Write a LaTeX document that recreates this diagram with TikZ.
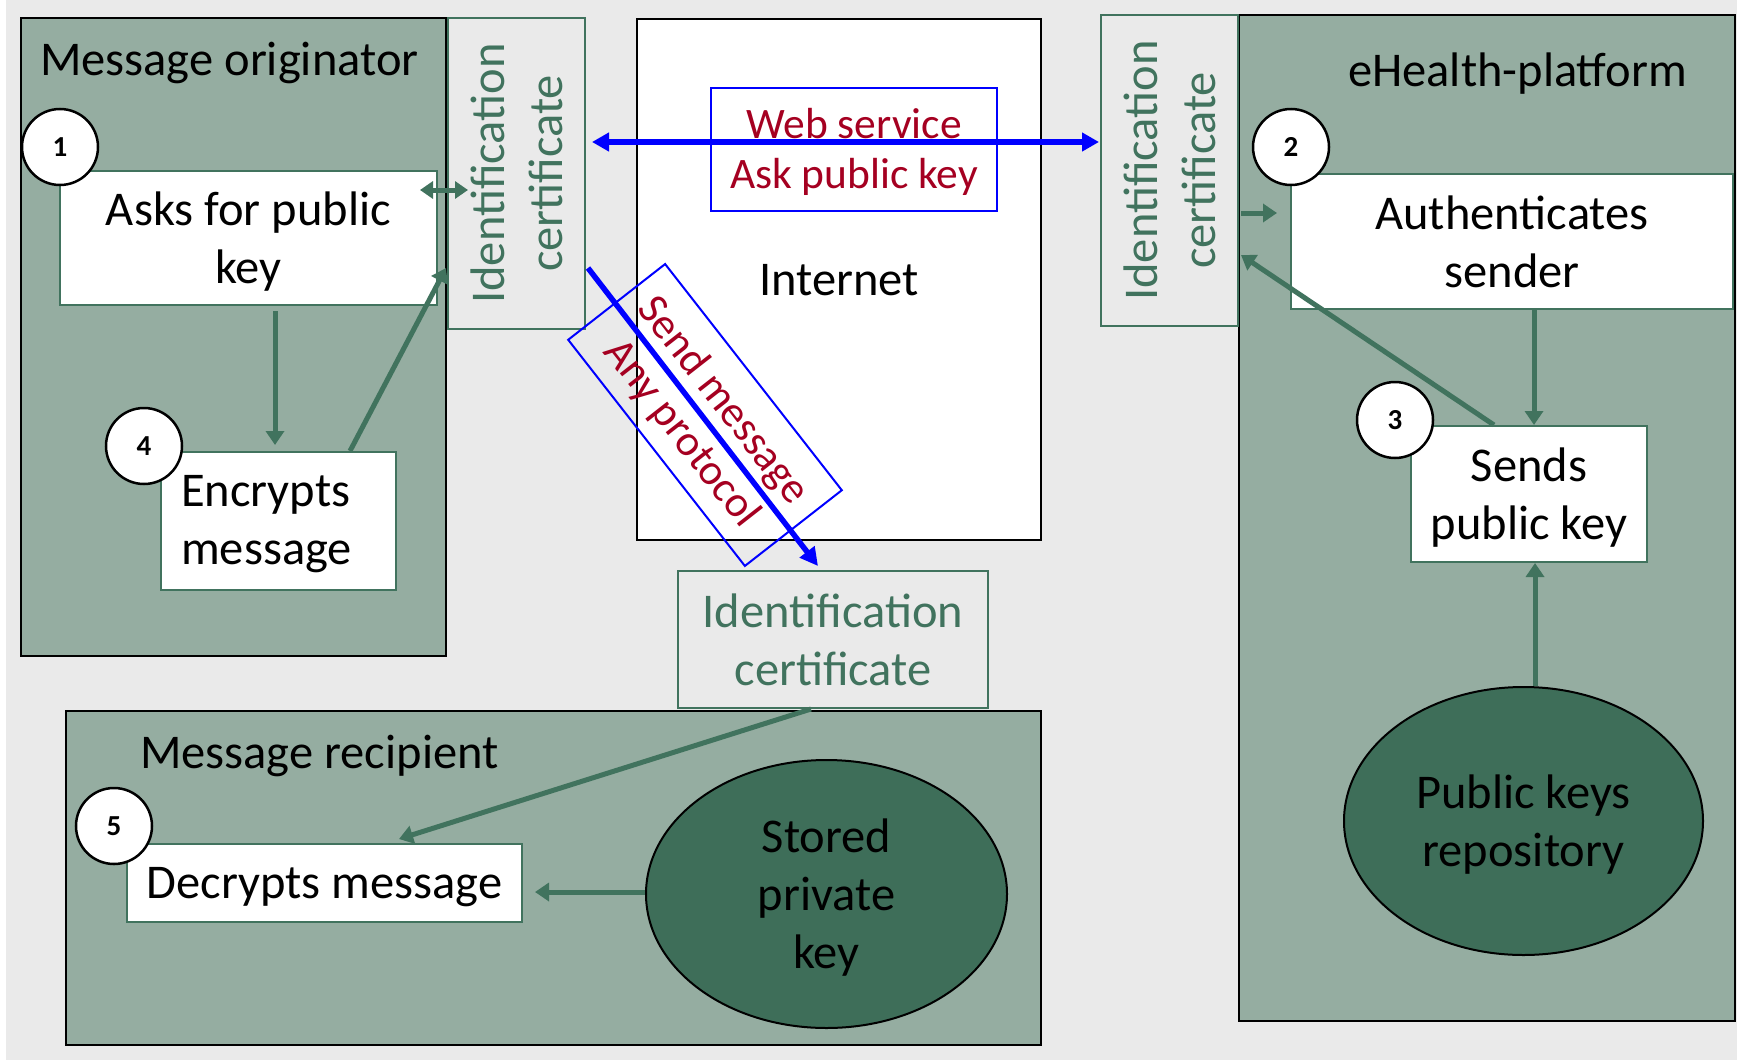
\documentclass[tikz,border=0pt]{standalone}
\usepackage{fontspec}
\setmainfont{Carlito}
\usetikzlibrary{arrows.meta,shapes.geometric,calc}
\definecolor{bgg}{HTML}{EAEAEA}
\definecolor{midg}{HTML}{95ADA1}
\definecolor{darkg}{HTML}{3E6E59}
\definecolor{lineg}{HTML}{41735E}
\definecolor{redt}{HTML}{A50021}
\begin{document}
\begin{tikzpicture}[x=1pt,y=-1pt,
  big/.style={font=\fontsize{48.5}{58}\selectfont},
  redlbl/.style={font=\fontsize{43.5}{50}\selectfont, text=redt, align=center},
  panel/.style={draw=black, line width=2.5pt, fill=midg, inner sep=0pt},
  stepbox/.style={draw=lineg, line width=2pt, fill=white, align=center, big, inner sep=0pt, text depth=0pt},
  certbox/.style={draw=lineg, line width=2pt, fill=bgg, text=lineg, align=center, big, inner sep=0pt},
  numc/.style={circle, draw=black, line width=2.5pt, fill=white, minimum size=76pt, inner sep=0pt, font=\fontsize{29}{30}\selectfont\bfseries},
  keyell/.style={ellipse, draw=black, line width=2pt, fill=darkg, align=center, big, inner sep=0pt, text depth=0pt},
  bluebox/.style={draw=blue, line width=2pt, inner sep=0pt},
  garrow/.style={draw=lineg, line width=5pt, -{Triangle[length=14pt,width=18pt]}},
  gdarrow/.style={draw=lineg, line width=5pt, {Triangle[length=13pt,width=17pt]}-{Triangle[length=13pt,width=17pt]}},
  barrow/.style={draw=blue, line width=5.5pt, -{Triangle[length=18pt,width=18pt]}},
  bdarrow/.style={draw=blue, line width=5.5pt, {Triangle[length=17pt,width=18pt]}-{Triangle[length=17pt,width=18pt]}},
]
\useasboundingbox (0,0) rectangle (1737,1060);
\fill[bgg] (0,0) rectangle (1737,1060);
\fill[white] (0,0) rectangle (6,1060);

% panels
\node[panel, minimum width=425pt, minimum height=638pt] (orig) at (233.5,337) {};
\node[panel, minimum width=975pt, minimum height=334pt] (recip) at (553.5,878) {};
\node[panel, minimum width=496pt, minimum height=1006pt] (ehp) at (1487,518) {};
\node[draw=black, line width=2.5pt, fill=white, minimum width=404pt, minimum height=521pt, inner sep=0pt] (inet) at (839,279.5) {};

% panel titles
\node[big, anchor=base west, inner sep=0pt] (torig) at (40,75) {Message originator};
\node[big, anchor=base west, inner sep=0pt] (tehp) at (1348,86) {eHealth-platform};
\node[big, anchor=base, inner sep=0pt] (tinet) at (839,295) {Internet};
\node[big, anchor=base west, inner sep=0pt] (trecip) at (140,768) {Message recipient};

% certificates
\node[certbox, minimum width=137pt, minimum height=311pt] (cert1) at (516.5,173.5) {};
\node[big, text=lineg, align=center, rotate=90, inner sep=0pt] (cert1t) at (516.5,173.5) {Identification\\certificate};
\node[certbox, minimum width=137pt, minimum height=311pt] (cert2) at (1169.5,170.5) {};
\node[big, text=lineg, align=center, rotate=90, inner sep=0pt] (cert2t) at (1169.5,170.5) {Identification\\certificate};
\node[certbox, minimum width=310pt, minimum height=137pt] (cert3) at (833,639.5) {Identification\\certificate};

% step boxes
\node[stepbox, minimum width=377pt, minimum height=134pt] (asks) at (248.5,238) {Asks for public\\key};
\node[stepbox, minimum width=235pt, minimum height=138pt] (enc) at (278.5,521) {};
\node[big, align=left, anchor=west, inner sep=0pt, text depth=0pt] (enct) at (181,520) {Encrypts\\message};
\node[stepbox, minimum width=442pt, minimum height=135pt] (auth) at (1512,241.5) {Authenticates\\sender};
\node[stepbox, minimum width=236pt, minimum height=136pt] (sends) at (1529,494) {Sends\\public key};
\node[stepbox, minimum width=395pt, minimum height=78pt] (dec) at (324.5,883) {Decrypts message};

% key stores
\node[keyell, minimum width=359pt, minimum height=268pt] (repo) at (1523.5,821) {Public keys\\repository};
\node[keyell, minimum width=361pt, minimum height=268pt] (priv) at (826.5,894) {Stored\\private\\key};

% numbers
\node[numc] (n1) at (60,147) {1};
\node[numc] (n2) at (1291,147) {2};
\node[numc] (n3) at (1395,420) {3};
\node[numc] (n4) at (144,446) {4};
\node[numc] (n5) at (114,826) {5};

% green connectors
\draw[gdarrow] ($(asks.north east)+(-18,20)$) -- ($(cert1.north west)+(21,173)$);
\draw[garrow] ($(asks.south)+(26.5,5)$) -- ($(enc.north)+(-3.5,-6)$);
\draw[garrow] ($(enc.north)+(71.5,0)$) -- ($(cert1.south west)+(-1,-62)$);
\draw[garrow] ($(cert2.south east)+(2,-114)$) -- ($(auth.south west)+(-13,-97)$);
\draw[garrow] ($(auth.south)+(22,0)$) -- ($(sends.north)+(5,0)$);
\draw[garrow] ($(sends.north west)+(84,0)$) -- ($(cert2.south east)+(2,-72)$);
\draw[garrow] ($(repo.north)+(11.5,0)$) -- ($(sends.south)+(6,0)$);
\draw[garrow] ($(cert3.south)+(-22,0)$) -- ($(dec.north)+(74.5,-4)$);
\draw[garrow] ($(priv.west)+(0,-2)$) -- ($(dec.east)+(12,9)$);

% blue: web service
\node[bluebox, minimum width=286pt, minimum height=123pt] (web) at (854,149.5) {};
\node[redlbl, anchor=base, inner sep=0pt] (webt1) at (854,138) {Web service};
\node[redlbl, anchor=base, inner sep=0pt] (webt2) at (854,188) {Ask public key};
\draw[bdarrow] ($(cert1.north east)+(6,125)$) -- ($(cert2.north west)+(-1,128)$);

% blue: send message
\node[bluebox, minimum width=287pt, minimum height=123pt, rotate=-52] (sendbox) at (705,415) {};
\node[redlbl, anchor=base, inner sep=0pt, rotate=-52] (sendt1) at (713.5,408.3) {Send message};
\node[redlbl, anchor=base, inner sep=0pt, rotate=-52] (sendt2) at (672.0,440.8) {Any protocol};
\draw[barrow] ($(cert1.south east)+(2,-62)$) -- ($(cert3.north)+(-15,-4)$);
\end{tikzpicture}
\end{document}
